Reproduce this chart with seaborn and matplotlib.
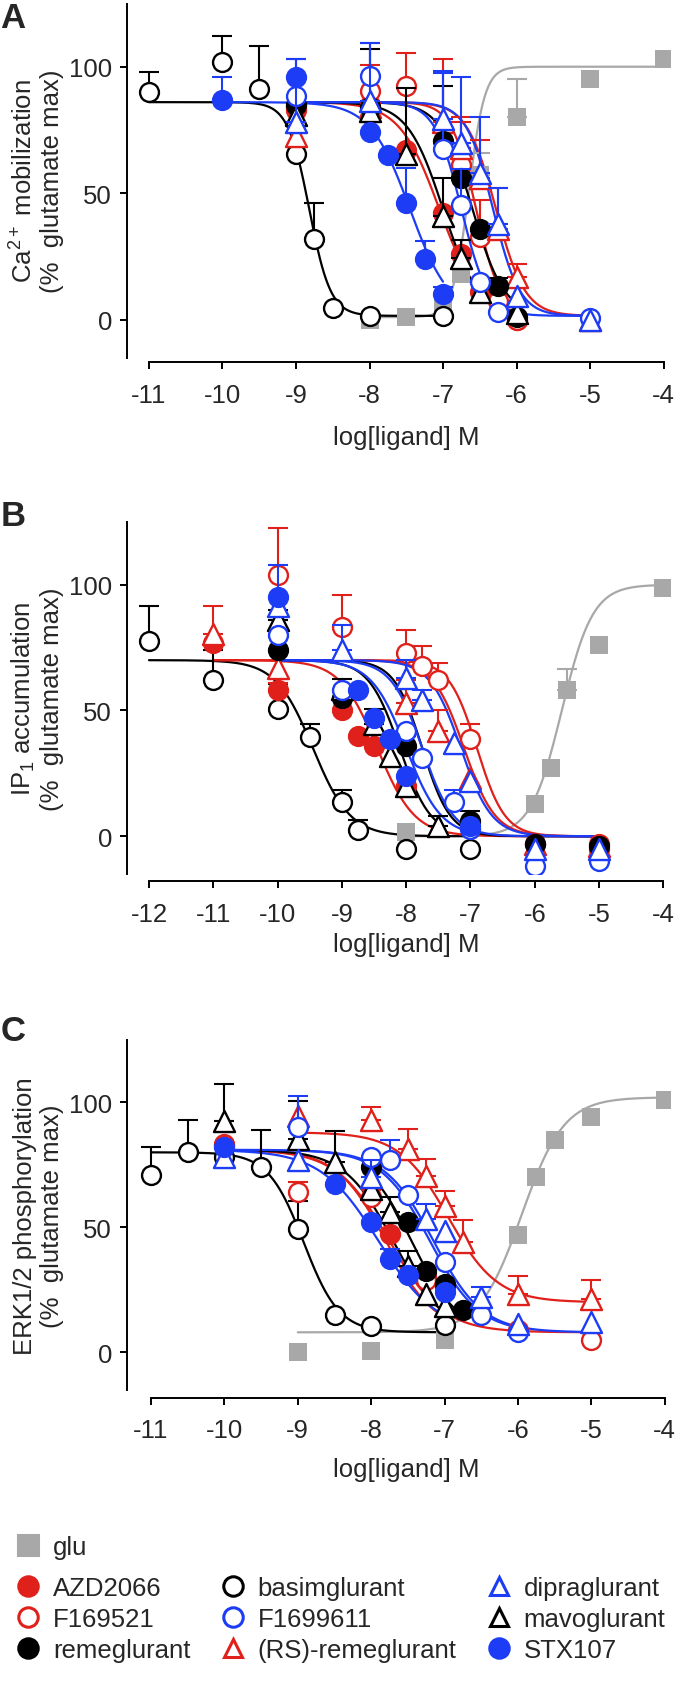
import numpy as np
import matplotlib
matplotlib.use("Agg")
import matplotlib.pyplot as plt
from matplotlib.lines import Line2D
import seaborn as sns

# colours of the figure
RED = '#E0201B'
BLUE = '#1C3CF5'
GRAY = '#A8A8A8'
BLACK = 'black'

# marker / face / edge of every ligand
styles = {
    'glu': ('s', GRAY, GRAY),
    'AZD2066': ('o', RED, RED),
    'F169521': ('o', 'white', RED),
    'remeglurant': ('o', BLACK, BLACK),
    'basimglurant': ('o', 'white', BLACK),
    'F1699611': ('o', 'white', BLUE),
    '(RS)-remeglurant': ('^', 'white', RED),
    'dipraglurant': ('^', 'white', BLUE),
    'mavoglurant': ('^', 'white', BLACK),
    'STX107': ('o', BLUE, BLUE),
}
draw_order = ['glu', 'basimglurant', 'AZD2066', 'F169521', '(RS)-remeglurant',
              'remeglurant', 'mavoglurant', 'F1699611', 'dipraglurant', 'STX107']

# ---- panel A : Ca2+ mobilization  (log conc, mean, +sem)
ca_data = {
    'glu': ([-8, -7.5, -7, -6.75, -6.5, -6, -5, -4], [0, 1, 5, 18, 57, 80, 95, 103], [0, 0, 0, 0, 9, 15, 0, 0]),
    'basimglurant': ([-11, -10, -9.5, -9, -8.75, -8.5, -8, -7], [90, 102, 91, 65.5, 32, 4.5, 1.5, 1.5], [8, 10, 17, 0, 14, 0, 0, 0]),
    'STX107': ([-10, -9, -8, -7.75, -7.5, -7.25, -7], [87, 96, 74, 65, 46, 24, 10], [9, 7, 0, 0, 14, 7, 3]),
    'AZD2066': ([-9, -8, -7.5, -7, -6.75, -6.5, -6], [83, 85, 67, 42, 26, 11, 0], [0, 0, 0, 0, 0, 0, 0]),
    'mavoglurant': ([-9, -8, -7.5, -7, -6.75, -6.5, -6], [81, 82.5, 65.5, 41, 24.5, 11, 2.5], [0, 0, 26, 15, 7, 0, 0]),
    'remeglurant': ([-9, -8, -7, -6.75, -6.5, -6.25, -6], [85, 84, 70.5, 56, 36, 13.5, 1], [0, 23, 22, 0, 0, 3, 0]),
    'F1699611': ([-9, -8, -7, -6.75, -6.5, -6.25, -5], [88.5, 96.5, 67.5, 45.5, 15, 3, 0.5], [8, 13, 30, 14, 0, 0, 0]),
    'F169521': ([-9, -8, -7.5, -6.75, -6.5, -6.25, -6], [84, 90.5, 92.5, 61, 32.5, 7.5, 0], [0, 10, 13, 17, 15, 0, 0]),
    'dipraglurant': ([-9, -8, -7, -6.75, -6.5, -6.25, -6, -5], [78, 86.5, 79.5, 70, 58, 38, 9.5, 0], [25, 23, 19, 26, 22, 14, 0, 0]),
    '(RS)-remeglurant': ([-9, -8, -7, -6.75, -6.5, -6.25, -6, -5], [72.5, 84, 78, 68, 56, 36, 17, 0], [0, 0, 25, 12, 15, 16, 5, 0]),
}
# fitted curves (bottom, top, logIC50, hill)
ca_fit = {
    'glu': (1, 100, -6.65, -4.0),
    'basimglurant': (1.5, 86, -8.82, 3.0),
    'STX107': (1.5, 86, -7.45, 1.6),
    'AZD2066': (1.5, 86, -7.05, 1.6),
    'mavoglurant': (1.5, 86, -7.0, 1.8),
    'remeglurant': (1.5, 86, -6.6, 2.0),
    'F1699611': (1.5, 86, -6.75, 2.4),
    'F169521': (1.5, 86, -6.55, 2.6),
    'dipraglurant': (1.5, 86, -6.32, 2.4),
    '(RS)-remeglurant': (1.5, 86, -6.28, 2.2),
}

# ---- panel B : IP1 accumulation
ip_data = {
    'glu': ([-8, -6, -5.75, -5.5, -5, -4], [1.5, 13, 27, 58, 76, 98.5], [0, 0, 0, 8.5, 0, 0]),
    'basimglurant': ([-12, -11, -10, -9.5, -9, -8.75, -8, -7], [77.5, 62, 50.5, 39.5, 13.5, 2.5, -5, -5], [14, 12, 10, 5, 5, 4, 0, 0]),
    'AZD2066': ([-11, -10, -9, -8.75, -8.5, -8, -6, -5], [77, 58, 50, 40, 36, 20, -3, -3], [0, 3, 0, 0, 0, 0, 0, 0]),
    '(RS)-remeglurant': ([-11, -10, -8, -7.5, -7, -6, -5], [80.5, 67, 53, 42, 23, -3, -4], [11, 0, 9, 8, 0, 0, 0]),
    'F169521': ([-10, -9, -8, -7.75, -7.5, -7, -6, -5], [104, 83, 73, 67.5, 62, 38.5, -3, -5], [18.5, 13, 9, 8, 7, 6, 0, 0]),
    'F1699611': ([-10, -9, -8, -7.75, -7.25, -7, -6, -5], [80, 58, 42, 31, 13.5, 3, -12, -10], [0, 0, 0, 0, 5, 0, 0, 0]),
    'dipraglurant': ([-10, -9, -8, -7.75, -7.25, -7, -6, -5], [91.5, 74, 63, 54, 37, 22, -5, -5], [0, 10, 7, 4, 0, 0, 0, 0]),
    'STX107': ([-10, -8.75, -8.5, -8.25, -8, -7], [95, 58, 47, 38.5, 24, 4], [13, 0, 0, 0, 0, 0]),
    'mavoglurant': ([-10, -9, -8.5, -8.25, -8, -7.5], [86, 58.5, 44.5, 32, 20, 4], [4, 4, 6, 0, 0, 4]),
    'remeglurant': ([-10, -9, -8, -7, -6, -5], [74, 55, 36, 6, -3, -4], [0, 0, 4, 4, 0, 0]),
}
ip_fit = {
    'glu': (0, 100, -5.58, -1.8),
    'basimglurant': (0, 70, -9.45, 1.5),
    'AZD2066': (0, 70, -8.45, 1.5),
    'mavoglurant': (0, 70, -8.1, 1.8),
    'STX107': (0, 70, -8.0, 1.6),
    'remeglurant': (0, 70, -7.75, 2.0),
    'F1699611': (0, 70, -7.75, 1.8),
    'dipraglurant': (0, 70, -7.15, 1.8),
    '(RS)-remeglurant': (0, 70, -7.1, 1.8),
    'F169521': (0, 70, -6.9, 2.0),
}

# ---- panel C : ERK1/2 phosphorylation
erk_data = {
    'glu': ([-9, -8, -7, -6, -5.75, -5.5, -5, -4], [0, 0.5, 5, 47, 70, 85, 94, 101], [0, 0, 0, 0, 0, 0, 0, 0]),
    'basimglurant': ([-11, -10.5, -10, -9.5, -9, -8.5, -8, -7], [71, 80, 78, 74, 49.5, 15, 10.5, 11], [11, 13, 0, 15, 11, 0, 0, 0]),
    '(RS)-remeglurant': ([-9, -8, -7.5, -7.25, -7, -6.75, -6, -5], [94.5, 93, 81.5, 70.5, 58.5, 44, 23.5, 21.5], [0, 5, 8, 7, 6, 9, 7, 7.5]),
    'STX107': ([-10, -8.5, -8, -7.75, -7.5, -7], [82, 67.5, 52, 37.5, 31, 24], [0, 0, 0, 4, 0, 0]),
    'AZD2066': ([-10, -7.75, -7.25, -7], [83.5, 47.5, 30.5, 26], [0, 0, 0, 0]),
    'mavoglurant': ([-10, -9, -8.5, -8, -7.75, -7.5, -7.25, -7], [92.5, 85.5, 76, 65.5, 56, 34.5, 23.5, 18.5], [15, 15, 12.5, 0, 6, 6, 0, 0]),
    'remeglurant': ([-8, -7.5, -7.25, -7, -6.75], [74, 52, 32.5, 27.5, 17], [3, 0, 0, 0, 0]),
    'F1699611': ([-9, -8, -7.75, -7.5, -7, -6.5, -6], [90, 78, 77, 63, 36, 15, 8], [12.5, 0, 8, 0, 0, 0, 0]),
    'dipraglurant': ([-10, -9, -8, -7.25, -7, -6.5, -6, -5], [78, 77, 70, 53.5, 48.5, 22, 11.5, 12], [0, 0, 7, 6, 0, 4, 0, 0]),
    'F169521': ([-10, -9, -8, -7.25, -6, -5], [83, 64, 62, 29, 9, 5], [0, 4, 3, 0, 0, 0]),
}
erk_fit = {
    'glu': (8, 102, -5.95, -1.5),
    'basimglurant': (8, 80, -8.92, 1.8),
    '(RS)-remeglurant': (20, 88, -6.95, 1.3),
    'STX107': (8, 81, -7.9, 1.1),
    'AZD2066': (8, 81, -7.8, 1.3),
    'F169521': (8, 81, -7.75, 1.2),
    'mavoglurant': (8, 81, -7.7, 1.3),
    'remeglurant': (8, 81, -7.45, 1.4),
    'F1699611': (8, 81, -7.2, 1.3),
    'dipraglurant': (8, 81, -7.15, 1.3),
}

ylabels = ['Ca$^{2+}$ mobilization\n(%  glutamate max)',
           'IP$_1$ accumulation\n(%  glutamate max)',
           'ERK1/2 phosphorylation\n(%  glutamate max)']
xticks_A = list(range(-11, -3))
xticks_B = list(range(-12, -3))
xticks_C = list(range(-11, -3))


def hill(x, bottom, top, logc, h):
    return bottom + (top - bottom) / (1 + 10 ** ((x - logc) * h))


sns.set_theme(style='ticks')
plt.rcParams['font.family'] = ['Liberation Sans', 'DejaVu Sans']
plt.rcParams['mathtext.fontset'] = 'custom'
plt.rcParams['mathtext.rm'] = 'Liberation Sans'
plt.rcParams['mathtext.it'] = 'Liberation Sans:italic'
plt.rcParams['axes.unicode_minus'] = False

W, H = 676, 1683
fig = plt.figure(figsize=(W / 100, H / 100), dpi=100)


def px_axes(l, t, r, b):
    return fig.add_axes([l / W, 1 - b / H, (r - l) / W, (b - t) / H])


# (top px, bottom px, xlim, ticks, spine offset px, tick pad pt, xlabel top px, ...)
panels = [
    (4.5, 358.6, (-11.306, -3.912), xticks_A, 4.7, 10, 426, ca_data, ca_fit, 'A', 19),
    (522.8, 875.0, (-12.35, -3.897), xticks_B, 6.7, 10, 933, ip_data, ip_fit, 'B', 516),
    (1040.8, 1390.8, (-11.334, -3.929), xticks_C, 8.0, 9.5, 1458, erk_data, erk_fit, 'C', 1032),
]

for i, (top, bot, xlim, ticks, off, pad, xl_top, data, fit, letter, ly) in enumerate(panels):
    ax = px_axes(126.5, top, 670, bot)
    hpx = bot - top
    z = 3
    for name in draw_order:
        x, y, e = data[name]
        x = np.array(x, float); y = np.array(y, float); e = np.array(e, float)
        m, fc, ec = styles[name]
        xs = np.linspace(x.min(), x.max(), 300)
        sns.lineplot(x=xs, y=hill(xs, *fit[name]), ax=ax, color=ec, lw=1.6,
                     estimator=None, zorder=2)
        k = e > 0
        if k.any():
            ax.errorbar(x[k], y[k], yerr=[np.zeros(k.sum()), e[k]], fmt='none',
                        ecolor=ec, elinewidth=1.5, capsize=7.5, capthick=1.5, zorder=z)
        size = 175 if m == 's' else (230 if m == '^' else 185)
        lw = 0 if m == 's' else 1.7
        sns.scatterplot(x=x, y=y, ax=ax, marker=m, s=size, color=fc,
                        edgecolor=ec, linewidth=lw, zorder=z + 1, legend=False)
        z += 2
    ax.set_xlim(*xlim)
    ax.set_ylim(-15, 125)
    ax.set_yticks([0, 50, 100])
    ax.set_xticks(ticks)
    ax.set_xticklabels([str(t) for t in ticks])
    sns.despine(ax=ax)
    ax.spines['bottom'].set_bounds(ticks[0], ticks[-1])
    ax.spines['bottom'].set_position(('outward', off * 0.72))
    for s in ['left', 'bottom']:
        ax.spines[s].set_linewidth(1.4)
        ax.spines[s].set_color('black')
    ax.tick_params(axis='both', labelsize=18.5, length=5, width=1.4, color='black')
    ax.tick_params(axis='x', pad=pad)
    ax.tick_params(axis='y', pad=5.5)
    ax.set_xlabel('log[ligand] M', fontsize=18.5)
    ax.xaxis.set_label_coords((406 - 126.5) / 543.5, -(xl_top - bot) / hpx)
    ax.set_ylabel(ylabels[i], fontsize=18.5, linespacing=1.15)
    ax.yaxis.set_label_coords((64 - 126.5) / 543.5, 0.5)
    fig.text(13 / W, 1 - ly / H, letter, fontsize=25, fontweight='bold',
             ha='center', va='center')

# legend
def handle(name):
    m, fc, ec = styles[name]
    return Line2D([], [], ls='none', marker=m, ms=14 if m != '^' else 13,
                  markerfacecolor=fc, markeredgecolor=ec, markeredgewidth=2.2)

fig.legend(handles=[handle('glu')], labels=['glu'], loc='upper left',
           bbox_to_anchor=(15.5 / W, 1 - 1536 / H), frameon=False, fontsize=18.5,
           borderpad=0, borderaxespad=0, handlelength=1.0, handletextpad=0.46)
names = ['AZD2066', 'F169521', 'remeglurant', 'basimglurant', 'F1699611',
         '(RS)-remeglurant', 'dipraglurant', 'mavoglurant', 'STX107']
fig.legend(handles=[handle(n) for n in names], labels=names, loc='upper left',
           ncol=3, bbox_to_anchor=(15.5 / W, 1 - 1577 / H), frameon=False,
           fontsize=18.5, borderpad=0, borderaxespad=0, handlelength=1.0,
           handletextpad=0.46, columnspacing=1.15, labelspacing=0.28)

fig.savefig('out.png', dpi=100)
